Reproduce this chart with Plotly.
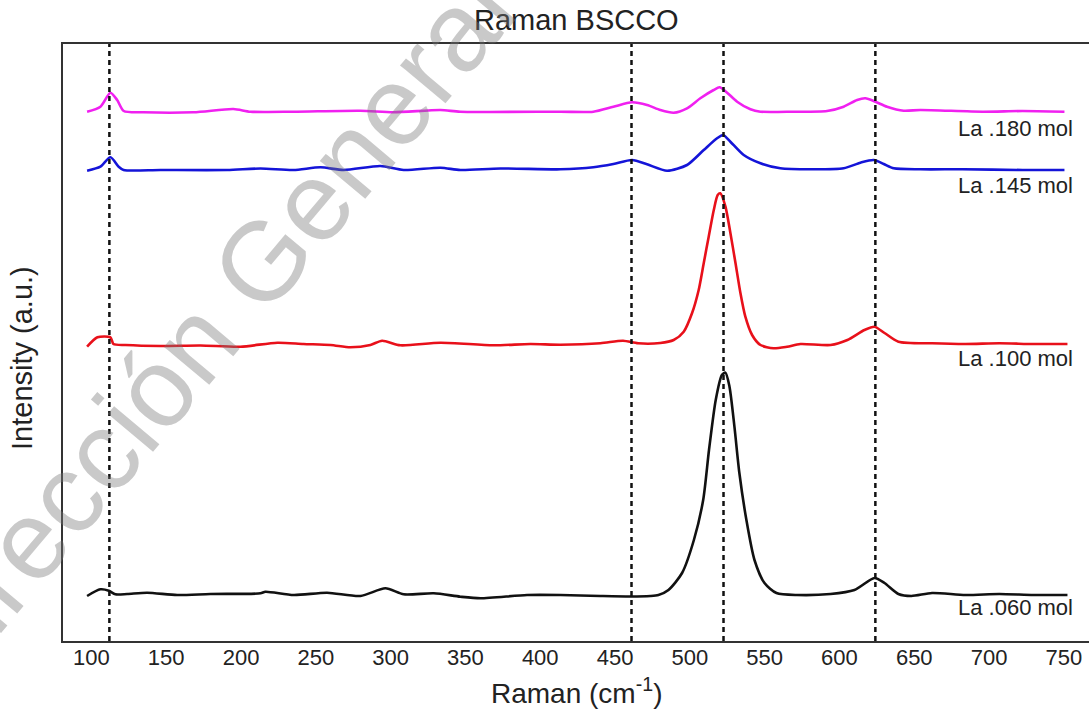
import plotly.graph_objects as go

# ---------------- data ----------------
# Raman shift (cm^-1) and intensity (a.u., with vertical offsets as plotted)
x_060 = [97.1, 106.0, 111.6, 116.0, 123.9, 137.2, 157.3, 179.5, 213.0, 216.3, 235.2, 257.5,
         279.8, 296.5, 308.7, 328.8, 346.6, 360.0, 391.2, 413.5, 440.2, 460.3, 473.6, 479.0,
         485.7, 494.8, 502.7, 508.9, 512.8, 517.3, 521.4, 523.8, 526.5, 529.8, 533.1, 537.8,
         543.2, 549.9, 557.9, 571.6, 594.0, 610.0, 623.4, 630.1, 639.4, 648.1, 661.9, 684.2,
         706.9, 729.6, 752.4]
y_060 = [45, 51.7, 50.3, 46.7, 47, 48.3, 46, 47, 47.7, 49.3, 46, 48.3,
         45, 52.7, 46.7, 47.7, 44.3, 42.7, 46, 46, 45, 44.5, 45, 46,
         51, 68, 101, 141, 191, 241, 266, 268.3, 254.3, 214.3, 168, 121,
         81, 58, 48, 46, 47, 51, 63, 58, 47, 45, 48, 46,
         47, 46, 46]

x_100 = [97.1, 104.0, 112.7, 114.7, 122.7, 146.1, 172.9, 199.6, 224.3, 241.7, 259.8, 273.1,
         286.5, 294.3, 306.5, 333.3, 368.7, 393.4, 413.5, 440.2, 455.3, 465.4, 480.2, 489.2,
         495.9, 501.5, 505.9, 509.3, 512.6, 516.0, 518.6, 520.4, 523.8, 527.1, 530.5, 533.8,
         537.1, 541.6, 547.2, 555.9, 565.0, 573.9, 594.0, 605.3, 616.7, 623.4, 630.1, 639.4,
         661.9, 684.2, 706.9, 729.6, 752.4]
y_100 = [294.3, 303.7, 303.7, 297, 296, 295, 295.5, 294.3, 298.3, 297, 296, 293.7,
         296, 300.3, 295.7, 298.3, 295.7, 297, 296.3, 297.7, 300.3, 297.7, 298, 301,
         309.3, 328, 351, 378, 404.3, 431, 446, 447.7, 434.3, 408, 378, 348,
         324.3, 306, 296, 292.7, 294.3, 297, 296, 301, 311, 314.3, 308, 299.3,
         297.7, 297, 297.7, 297, 297]

x_145 = [97.1, 106.0, 112.7, 118.2, 121.5, 146.1, 190.7, 213.0, 235.0, 253.1, 268.6, 293.2,
         308.7, 333.3, 346.6, 373.4, 413.5, 435.5, 448.9, 461.4, 471.4, 484.8, 498.1, 509.3,
         518.2, 522.2, 527.1, 536.0, 547.2, 560.5, 580.6, 602.8, 614.0, 622.9, 629.6, 636.3,
         654.1, 682.2, 722.3, 750.4]
y_145 = [470.3, 474.3, 483.7, 474.3, 471, 471, 471, 472.5, 471, 473.7, 471, 475,
         471, 473.3, 471, 472.5, 471.7, 473.7, 477, 481, 476.7, 470.3, 476, 491,
         502.7, 506, 499.3, 486, 477.7, 472.7, 471.7, 472.7, 478.3, 481, 477, 472.7,
         471.7, 471.7, 471, 471]

x_180 = [97.1, 106.0, 112.7, 117.2, 121.6, 134.8, 168.2, 194.9, 206.3, 235.0, 279.8, 301.9,
         333.3, 346.6, 413.5, 435.5, 448.9, 461.4, 471.4, 480.3, 489.2, 498.1, 507.0, 515.9,
         519.9, 524.9, 531.6, 540.5, 547.2, 569.2, 591.7, 602.8, 611.8, 617.3, 624.0, 631.8,
         642.9, 654.1, 695.6, 722.3, 750.4]
y_180 = [529.3, 534.3, 548.3, 541, 530, 528.7, 528.7, 532, 529.3, 529.3, 530.3, 528.7,
         531, 529.3, 529.3, 529.3, 534.3, 538.7, 536, 531, 528.3, 532.7, 542.7, 551,
         553.7, 548.3, 539.3, 531.7, 529.3, 529.3, 530, 534.3, 541, 542.7, 539.3, 534.3,
         530.3, 531, 529.3, 530, 529.3]

series_names = ["La .060 mol", "La .100 mol", "La .145 mol", "La .180 mol"]
series_colors = ["#111111", "#e8101a", "#1414d8", "#f020f0"]
label_y = [34, 283, 456, 513]          # intensity level of each series label
peak_lines = [112, 461, 522.5, 624]    # dashed reference positions (cm^-1)
x_ticks = list(range(100, 751, 50))

xs = [x_060, x_100, x_145, x_180]
ys = [y_060, y_100, y_145, y_180]

# ---------------- figure ----------------
fig = go.Figure()
for xv, yv, name, col in zip(xs, ys, series_names, series_colors):
    fig.add_trace(go.Scatter(x=xv, y=yv, mode="lines", name=name,
                             line=dict(color=col, width=2.6, shape="spline", smoothing=0.7),
                             showlegend=False))

for px in peak_lines:
    fig.add_shape(type="line", xref="x", yref="paper", x0=px, x1=px, y0=0, y1=1,
                  line=dict(color="#111111", width=2.5, dash="5px,4px"))

FONT = "Liberation Sans, Arial, sans-serif"
for name, ly in zip(series_names, label_y):
    fig.add_annotation(x=757.7, y=ly, xref="x", yref="y", text=name, showarrow=False,
                       xanchor="right", yanchor="middle",
                       font=dict(family=FONT, size=22, color="#222222"))

# title and axis titles
fig.add_annotation(x=0.5, y=1.040, xref="paper", yref="paper", text="Raman BSCCO",
                   showarrow=False, xanchor="center", yanchor="middle",
                   font=dict(family=FONT, size=29, color="#222222"))
fig.add_annotation(x=0.5, y=-0.083, xref="paper", yref="paper", text="Raman (cm<sup>-1</sup>)",
                   showarrow=False, xanchor="center", yanchor="middle",
                   font=dict(family=FONT, size=28, color="#222222"))
fig.add_annotation(x=-0.040, y=0.474, xref="paper", yref="paper", text="Intensity (a.u.)",
                   showarrow=False, xanchor="center", yanchor="middle", textangle=-90,
                   font=dict(family=FONT, size=29, color="#222222"))

# watermark
fig.add_annotation(x=0.1365, y=0.516, xref="paper", yref="paper", text="Dirección General",
                   showarrow=False, xanchor="center", yanchor="middle", textangle=-50,
                   font=dict(family=FONT, size=112, color="rgba(120,120,120,0.40)"))

fig.update_layout(
    width=1089, height=709, autosize=False,
    margin=dict(l=63, r=0, t=44, b=68),
    paper_bgcolor="white", plot_bgcolor="white",
    xaxis=dict(range=[81, 766.8], tickvals=x_ticks, ticktext=[str(t) for t in x_ticks],
               ticks="", ticklabelstandoff=-4, showgrid=False, zeroline=False,
               showline=True, mirror=True, linecolor="#333333", linewidth=2,
               tickfont=dict(family=FONT, size=22, color="#222222")),
    yaxis=dict(range=[0, 597], showticklabels=False, ticks="", showgrid=False,
               zeroline=False, showline=True, mirror=False, linecolor="#333333", linewidth=2),
)

fig.write_html("out.html")
